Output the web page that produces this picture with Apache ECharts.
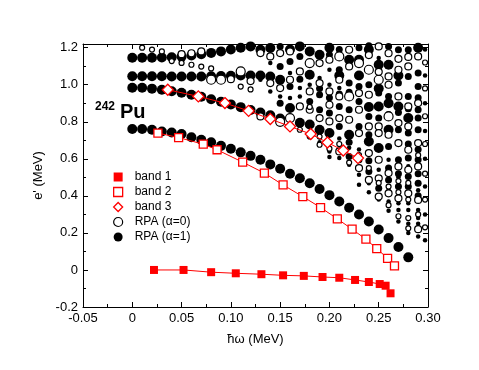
<!DOCTYPE html>
<html>
<head>
<meta charset="utf-8">
<script src="https://cdn.jsdelivr.net/npm/echarts@6/dist/echarts.min.js"></script>
<style>
  html, body { margin: 0; padding: 0; background: #fff; }
  #chart { width: 479px; height: 370px; }
</style>
</head>
<body>
<div id="chart"></div>
<script>
// tick labels
const xTickLabels = ["-0.05", "0", "0.05", "0.10", "0.15", "0.20", "0.25", "0.30"];
const yTickLabels = ["-0.2", "0", "0.2", "0.4", "0.6", "0.8", "1.0", "1.2"];

// yrast bands (hw, e')
const band1 = [
  [0.022, 0.0], [0.052, 0.0], [0.080, -0.012], [0.105, -0.018], [0.131, -0.023],
  [0.153, -0.029], [0.174, -0.032], [0.193, -0.038], [0.210, -0.042], [0.226, -0.054],
  [0.240, -0.065], [0.251, -0.076], [0.257, -0.085], [0.262, -0.126]
];
const band2 = [
  [0.026, 0.739], [0.047, 0.715], [0.072, 0.679], [0.086, 0.649], [0.112, 0.582],
  [0.134, 0.523], [0.153, 0.459], [0.173, 0.396], [0.191, 0.337], [0.208, 0.276],
  [0.223, 0.220], [0.237, 0.166], [0.248, 0.115], [0.259, 0.063], [0.266, 0.022]
];
const band3 = [
  [0.036, 0.973], [0.067, 0.937], [0.094, 0.901], [0.118, 0.859], [0.140, 0.815],
  [0.160, 0.775], [0.181, 0.734], [0.198, 0.688], [0.214, 0.645], [0.229, 0.604]
];

// RPA alpha=1 (filled), split by marker size class
const rpa1Big = [
  // lowest branch
  [0, 0.761], [0.01, 0.761], [0.02, 0.757], [0.03, 0.748], [0.04, 0.742], [0.05, 0.734],
  [0.06, 0.717], [0.07, 0.703], [0.08, 0.690], [0.09, 0.670], [0.10, 0.654], [0.11, 0.635],
  [0.12, 0.616], [0.13, 0.595], [0.14, 0.570], [0.15, 0.546], [0.16, 0.519], [0.17, 0.495],
  [0.18, 0.468], [0.19, 0.437], [0.20, 0.404], [0.21, 0.370], [0.22, 0.336], [0.23, 0.299],
  [0.24, 0.262], [0.25, 0.218], [0.26, 0.172], [0.27, 0.124], [0.28, 0.068],
  // second branch
  [0, 0.984], [0.01, 0.984], [0.02, 0.979], [0.03, 0.973], [0.04, 0.965], [0.05, 0.957],
  [0.06, 0.946], [0.07, 0.935], [0.08, 0.922], [0.09, 0.908], [0.10, 0.894], [0.11, 0.879],
  [0.12, 0.864], [0.13, 0.850], [0.14, 0.835], [0.15, 0.818],
  // third row
  [0, 1.046], [0.01, 1.046], [0.02, 1.046], [0.03, 1.046], [0.04, 1.045], [0.05, 1.045],
  [0.06, 1.045], [0.07, 1.045], [0.08, 1.046], [0.09, 1.047], [0.10, 1.048], [0.11, 1.050],
  [0.12, 1.050], [0.13, 1.050],
  // top row
  [0, 1.146], [0.01, 1.146], [0.02, 1.146], [0.03, 1.147], [0.04, 1.148], [0.05, 1.152],
  [0.06, 1.158], [0.07, 1.165], [0.08, 1.172], [0.09, 1.180], [0.10, 1.190], [0.11, 1.200],
  [0.12, 1.207],
  // scattered
  [0.13, 1.189], [0.14, 1.198], [0.14, 1.045], [0.15, 1.027], [0.16, 0.874], [0.17, 1.207],
  [0.17, 0.795], [0.18, 1.180], [0.18, 1.054], [0.18, 0.785], [0.19, 1.162], [0.19, 0.757],
  [0.20, 0.739], [0.22, 1.135], [0.22, 0.730], [0.23, 1.135], [0.24, 0.694], [0.25, 1.108],
  [0.25, 0.883], [0.25, 0.658], [0.26, 0.757], [0.27, 0.883], [0.25, 0.980], [0.26, 1.108],
  [0.16, 1.190], [0.20, 1.200], [0.21, 1.050], [0.23, 1.050], [0.24, 0.880], [0.27, 1.050],
  [0.28, 0.820], [0.29, 1.200], [0.24, 1.190], [0.26, 0.900]
];
const rpa1Mid = [
  [0.15, 1.207], [0.15, 1.099], [0.16, 1.126], [0.16, 0.991], [0.17, 1.153], [0.18, 0.910],
  [0.19, 0.946], [0.19, 0.865], [0.20, 1.162], [0.20, 0.847], [0.21, 1.190], [0.21, 1.081],
  [0.21, 0.883], [0.21, 0.775], [0.22, 1.009], [0.22, 0.865], [0.22, 0.613], [0.23, 1.200],
  [0.23, 0.991], [0.23, 0.910], [0.23, 0.775], [0.23, 0.595], [0.24, 1.210], [0.24, 1.000],
  [0.24, 0.829], [0.24, 0.532], [0.25, 0.955], [0.25, 0.441], [0.26, 1.207], [0.26, 0.937],
  [0.26, 0.667], [0.26, 0.486], [0.27, 1.189], [0.27, 1.009], [0.27, 0.757], [0.27, 0.595],
  [0.27, 0.450], [0.28, 1.189], [0.28, 1.045], [0.28, 0.937], [0.28, 0.739], [0.28, 0.604],
  [0.28, 0.505], [0.29, 1.063], [0.29, 0.991], [0.29, 0.865], [0.29, 0.757], [0.29, 0.595],
  [0.29, 0.468], [0.15, 0.900], [0.17, 1.030], [0.19, 0.980], [0.20, 0.930], [0.21, 0.950],
  [0.22, 0.960], [0.22, 0.690], [0.24, 0.590], [0.24, 0.730], [0.25, 0.820], [0.26, 0.840],
  [0.26, 0.550], [0.27, 0.850], [0.27, 0.520], [0.28, 0.870], [0.28, 0.680], [0.28, 0.450],
  [0.29, 0.930], [0.29, 0.820], [0.29, 0.650], [0.29, 0.520], [0.29, 0.400]
];
const rpa1Small = [
  [0.13, 1.027], [0.14, 1.117], [0.14, 0.964], [0.15, 0.937], [0.16, 1.063], [0.16, 0.928],
  [0.17, 0.982], [0.17, 0.937], [0.18, 1.000], [0.19, 1.036], [0.20, 1.081], [0.20, 1.000],
  [0.20, 0.640], [0.21, 0.982], [0.21, 0.604], [0.22, 0.568], [0.23, 0.514], [0.24, 1.171],
  [0.24, 0.468], [0.25, 1.144], [0.25, 0.541], [0.26, 0.595], [0.26, 0.369], [0.27, 0.324],
  [0.27, 0.262], [0.28, 0.324], [0.28, 0.250], [0.28, 0.200], [0.29, 0.324], [0.29, 0.250],
  [0.29, 0.180], [0.297, 1.190], [0.297, 1.050], [0.297, 0.900], [0.297, 0.750],
  [0.297, 0.600], [0.297, 0.450], [0.297, 0.300], [0.297, 0.160],
  [0.19, 0.690], [0.20, 0.610], [0.21, 0.710], [0.22, 0.660], [0.23, 0.650], [0.23, 0.460],
  [0.24, 0.420], [0.25, 0.380], [0.25, 0.600], [0.26, 0.430], [0.26, 0.320], [0.27, 0.360],
  [0.27, 0.500], [0.28, 0.360], [0.28, 0.560], [0.29, 0.280], [0.29, 0.430]
];

// RPA alpha=0 (open), split by marker size class
const rpa0Big = [
  [0.15, 0.800], [0.16, 0.820], [0.18, 1.117], [0.21, 1.153], [0.22, 0.937], [0.23, 1.117],
  [0.24, 1.081], [0.25, 1.027], [0.26, 0.829], [0.08, 1.027], [0.09, 1.027], [0.11, 1.072]
];
const rpa0Mid = [
  [0.05, 1.165], [0.06, 1.170], [0.07, 1.180], [0.10, 1.030], [0.12, 1.020],
  [0.13, 1.171], [0.13, 0.829], [0.14, 1.153], [0.14, 1.009], [0.15, 1.171], [0.15, 0.982],
  [0.16, 1.180], [0.16, 1.027], [0.17, 1.072], [0.17, 0.883], [0.18, 0.964], [0.18, 0.865],
  [0.19, 1.117], [0.19, 1.009], [0.19, 0.820], [0.20, 1.135], [0.20, 0.964], [0.20, 0.892],
  [0.20, 0.802], [0.21, 1.027], [0.21, 0.937], [0.21, 0.820], [0.21, 0.640], [0.22, 1.189],
  [0.22, 1.099], [0.22, 0.811], [0.23, 0.955], [0.23, 0.865], [0.23, 0.739], [0.23, 0.550],
  [0.24, 1.160], [0.24, 0.946], [0.24, 0.775], [0.24, 0.631], [0.24, 0.486], [0.25, 1.207],
  [0.25, 1.070], [0.25, 0.775], [0.25, 0.739], [0.25, 0.595], [0.25, 0.495], [0.25, 0.396],
  [0.26, 1.170], [0.26, 1.045], [0.26, 1.000], [0.26, 0.730], [0.26, 0.523], [0.26, 0.414],
  [0.27, 1.140], [0.27, 1.081], [0.27, 0.937], [0.27, 0.793], [0.27, 0.685], [0.27, 0.559],
  [0.27, 0.387], [0.28, 1.150], [0.28, 1.099], [0.28, 0.883], [0.28, 0.775], [0.28, 0.649],
  [0.28, 0.541], [0.28, 0.414], [0.29, 1.153], [0.29, 0.901], [0.29, 0.685], [0.29, 0.559],
  [0.29, 0.378], [0.29, 0.220]
];
const rpa0Small = [
  [0.01, 1.200], [0.02, 1.190], [0.03, 1.180], [0.04, 1.128], [0.05, 1.118], [0.06, 1.108],
  [0.07, 1.098], [0.08, 1.088], [0.11, 0.990], [0.12, 0.975],
  [0.17, 0.757], [0.18, 0.721], [0.19, 0.676], [0.20, 0.655], [0.27, 0.290], [0.28, 0.280],
  [0.28, 0.225], [0.297, 1.120], [0.297, 0.980], [0.297, 0.830], [0.297, 0.680],
  [0.297, 0.520], [0.297, 0.380], [0.297, 0.230],
  [0.18, 0.880], [0.19, 0.720], [0.21, 0.680], [0.22, 0.580], [0.23, 0.620], [0.24, 0.550],
  [0.25, 0.470], [0.26, 0.450], [0.27, 0.420], [0.28, 0.380], [0.29, 0.300], [0.26, 0.350],
  [0.27, 0.480], [0.28, 0.470], [0.29, 0.620]
];

const chart = echarts.init(document.getElementById("chart"));
const font = "Liberation Sans, Arial, sans-serif";
const red = "#ff0000";

function fmtTick(labels, min, step) {
  return (v) => {
    const i = Math.round((v - min) / step);
    if (Math.abs(min + i * step - v) > 1e-6) return "";
    return labels[i] || "";
  };
}

function rpaSeries(name, data, size, filled) {
  return {
    name: name,
    type: "scatter",
    data: data,
    symbol: "circle",
    symbolSize: size,
    z: 2,
    itemStyle: filled
      ? { color: "#000", opacity: 1 }
      : { color: "#fff", borderColor: "#000", borderWidth: 1.2, opacity: 1 },
    emphasis: { disabled: true },
  };
}

const tickCommon = { inside: true, length: 5, lineStyle: { color: "#000" } };
const minorCommon = { show: true, length: 3, lineStyle: { color: "#000" } };

const option = {
  animation: false,
  grid: { left: 83, right: 51, top: 44, bottom: 63 },
  legend: {
    left: 108,
    top: 166,
    orient: "vertical",
    itemWidth: 9,
    itemHeight: 9,
    itemGap: 3,
    textStyle: { fontFamily: font, fontSize: 12, color: "#000", padding: [0, 0, 0, 7] },
    data: [
      { name: "band 1", icon: "rect", itemStyle: { color: red, borderWidth: 0 } },
      { name: "band 2", icon: "rect", itemStyle: { color: "#fff", borderColor: red, borderWidth: 1.3 } },
      { name: "band 3", icon: "diamond", itemStyle: { color: "#fff", borderColor: red, borderWidth: 1.3 } },
      { name: "RPA (α=0)", icon: "circle", itemStyle: { color: "#fff", borderColor: "#000", borderWidth: 1.2 } },
      { name: "RPA (α=1)", icon: "circle", itemStyle: { color: "#000", borderWidth: 0 } },
    ],
  },
  graphic: [
    { type: "text", left: 95, top: 101, style: { text: "242", font: "bold 12px " + font, fill: "#000" } },
    { type: "text", left: 120, top: 102, style: { text: "Pu", font: "bold 20px " + font, fill: "#000" } },
  ],
  xAxis: [
    {
      type: "value",
      min: -0.05,
      max: 0.3,
      interval: 0.05,
      name: "ħω (MeV)",
      nameLocation: "middle",
      nameGap: 26,
      nameTextStyle: { fontFamily: font, fontSize: 13, color: "#000" },
      axisLine: { onZero: false, lineStyle: { color: "#000", width: 1 } },
      axisTick: tickCommon,
      minorTick: Object.assign({ splitNumber: 2 }, minorCommon),
      splitLine: { show: false },
      axisLabel: {
        fontFamily: font, fontSize: 13, color: "#000", margin: 5,
        formatter: fmtTick(xTickLabels, -0.05, 0.05),
      },
    },
    {
      type: "value",
      position: "top",
      min: -0.05,
      max: 0.3,
      interval: 0.05,
      axisLine: { onZero: false, lineStyle: { color: "#000", width: 1 } },
      axisTick: tickCommon,
      minorTick: Object.assign({ splitNumber: 2 }, minorCommon),
      splitLine: { show: false },
      axisLabel: { show: false },
    },
  ],
  yAxis: [
    {
      type: "value",
      min: -0.2,
      max: 1.22,
      interval: 0.2,
      name: "e' (MeV)",
      nameLocation: "middle",
      nameGap: 36,
      nameTextStyle: { fontFamily: font, fontSize: 13, color: "#000" },
      axisLine: { onZero: false, lineStyle: { color: "#000", width: 1 } },
      axisTick: tickCommon,
      minorTick: Object.assign({ splitNumber: 2 }, minorCommon),
      splitLine: { show: false },
      axisLabel: {
        fontFamily: font, fontSize: 13, color: "#000", margin: 5,
        formatter: fmtTick(yTickLabels, -0.2, 0.2),
      },
    },
    {
      type: "value",
      position: "right",
      min: -0.2,
      max: 1.22,
      interval: 0.2,
      axisLine: { onZero: false, lineStyle: { color: "#000", width: 1 } },
      axisTick: tickCommon,
      minorTick: Object.assign({ splitNumber: 2 }, minorCommon),
      splitLine: { show: false },
      axisLabel: { show: false },
    },
  ],
  series: [
    rpaSeries("RPA (α=1)", rpa1Big, 10, true),
    rpaSeries("RPA (α=1)", rpa1Mid, 7, true),
    rpaSeries("RPA (α=1)", rpa1Small, 4.5, true),
    rpaSeries("RPA (α=0)", rpa0Big, 9, false),
    rpaSeries("RPA (α=0)", rpa0Mid, 7, false),
    rpaSeries("RPA (α=0)", rpa0Small, 5, false),
    {
      name: "band 1",
      type: "line",
      data: band1,
      symbol: "rect",
      symbolSize: 8,
      z: 5,
      itemStyle: { color: red },
      lineStyle: { color: red, width: 1 },
    },
    {
      name: "band 2",
      type: "line",
      data: band2,
      symbol: "rect",
      symbolSize: 8,
      z: 5,
      itemStyle: { color: "#fff", borderColor: red, borderWidth: 1.3 },
      lineStyle: { color: red, width: 1 },
    },
    {
      name: "band 3",
      type: "line",
      data: band3,
      symbol: "diamond",
      symbolSize: 11,
      z: 5,
      itemStyle: { color: "#fff", borderColor: red, borderWidth: 1.3 },
      lineStyle: { color: red, width: 1 },
    },
  ],
};

chart.setOption(option);
</script>
</body>
</html>
